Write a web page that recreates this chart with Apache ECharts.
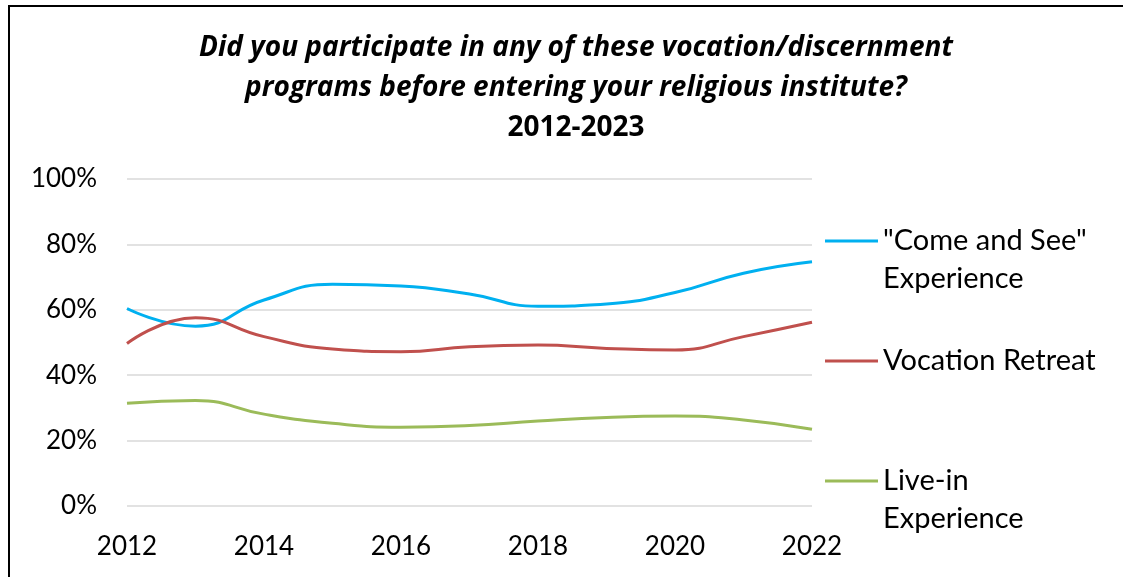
<!DOCTYPE html>
<html>
<head>
<meta charset="utf-8">
<script src="https://cdn.jsdelivr.net/npm/echarts@6/dist/echarts.min.js"></script>
<style>
  html, body { margin: 0; padding: 0; background: #ffffff; }
  #chart { width: 1123px; height: 577px; }
</style>
</head>
<body>
<div id="chart"></div>
<script>
// Survey years on the horizontal axis
const years = ['2012', '2013', '2014', '2015', '2016', '2017', '2018', '2019', '2020', '2021', '2022'];

// Share of respondents (percent) who took part in each program
const comeAndSee = [60.4, 55.0, 63.0, 67.8, 67.3, 64.8, 61.1, 61.8, 65.3, 71.2, 74.7];
const vocationRetreat = [49.7, 57.6, 51.8, 48.0, 47.2, 48.7, 49.2, 48.2, 47.7, 51.8, 56.2];
const liveIn = [31.4, 32.3, 28.1, 25.3, 24.1, 24.6, 26.0, 27.1, 27.5, 26.3, 23.5];

const seriesNames = ['"Come and See" Experience', 'Vocation Retreat', 'Live-in Experience'];
// A leading empty line keeps the legend swatch beside the first text line
const legendLabels = ['\n"Come and See"\nExperience', 'Vocation Retreat', '\nLive-in\nExperience'];
const colors = ['#00B0F0', '#C0504D', '#9BBB59'];

const FONT = 'Lato';
const TITLE_FONT = 'Open Sans';
const chart = echarts.init(document.getElementById('chart'));

function legendFor(i, top) {
  return {
    top: top,
    left: 825,
    padding: 0,
    orient: 'vertical',
    icon: 'rect',
    itemWidth: 53,
    itemHeight: 3,
    itemGap: 0,
    selectedMode: false,
    textStyle: { fontFamily: FONT, fontSize: 29, color: '#000000', lineHeight: 38 },
    data: [seriesNames[i]],
    formatter: function () { return legendLabels[i]; }
  };
}

chart.setOption({
  animation: false,
  title: {
    left: 571,
    top: 23,
    textAlign: 'center',
    text: '{q|Did you participate in any of these vocation/discernment}\n{q|programs before entering your religious institute?}\n{y|2012-2023}',
    textStyle: {
      rich: {
        q: { fontFamily: TITLE_FONT, fontSize: 28, fontWeight: 'bold', fontStyle: 'italic', color: '#000000', lineHeight: 40, align: 'center' },
        y: { fontFamily: TITLE_FONT, fontSize: 28, fontWeight: 'bold', color: '#000000', lineHeight: 40, align: 'center' }
      }
    }
  },
  legend: [
    legendFor(0, 184),
    legendFor(1, 342),
    legendFor(2, 424)
  ],
  grid: { left: 127, right: 311, top: 179, bottom: 71, containLabel: false },
  xAxis: {
    type: 'category',
    data: years,
    boundaryGap: false,
    axisLine: { show: false },
    axisTick: { show: false },
    axisLabel: { interval: 1, fontFamily: FONT, fontSize: 26, color: '#000000', margin: 28 }
  },
  yAxis: {
    type: 'value',
    min: 0,
    max: 100,
    interval: 20,
    axisLine: { show: false },
    axisTick: { show: false },
    axisLabel: { formatter: '{value}%', fontFamily: FONT, fontSize: 26, color: '#000000', margin: 30 },
    splitLine: { lineStyle: { color: '#D9D9D9', width: 1.5 } }
  },
  series: [comeAndSee, vocationRetreat, liveIn].map(function (values, i) {
    return {
      name: seriesNames[i],
      type: 'line',
      data: values,
      smooth: 0.5,
      symbol: 'none',
      lineStyle: { color: colors[i], width: 3 },
      itemStyle: { color: colors[i] }
    };
  }),
  graphic: [{
    type: 'polyline',
    silent: true,
    shape: { points: [[9, 577], [9, 6], [1123, 6]] },
    style: { stroke: '#000000', lineWidth: 2, fill: null }
  }]
});
</script>
</body>
</html>
